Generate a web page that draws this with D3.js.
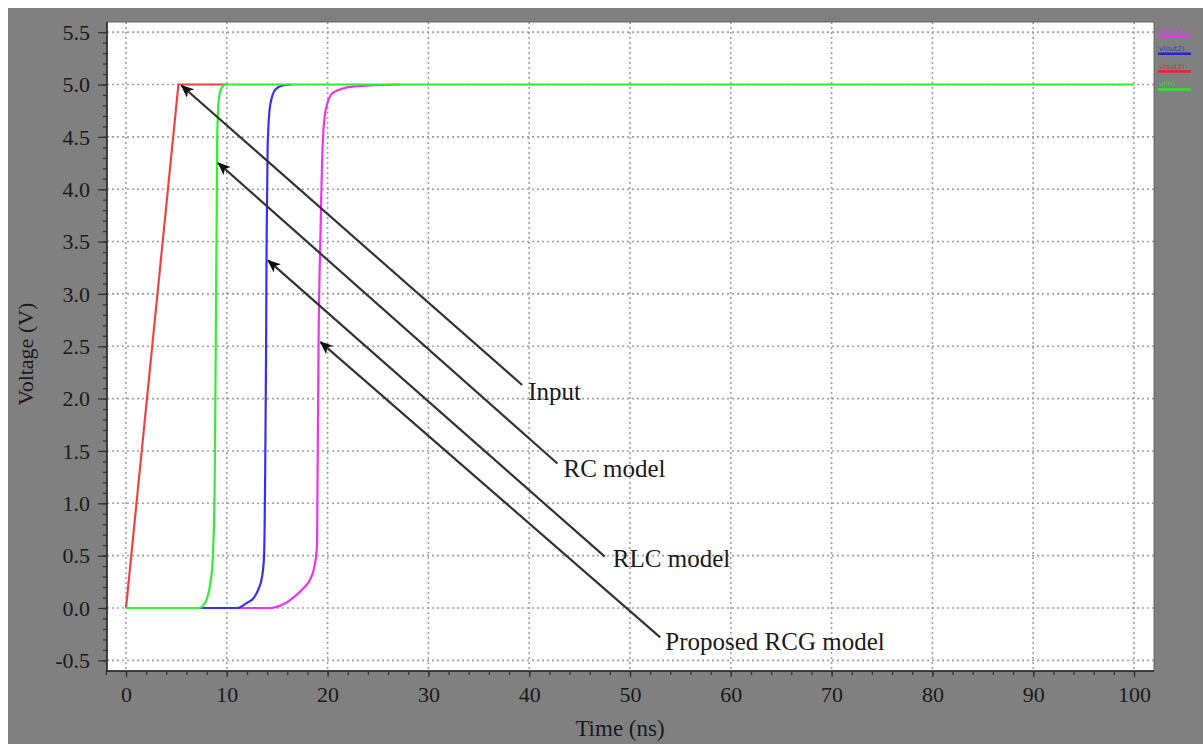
<!DOCTYPE html>
<html><head><meta charset="utf-8">
<script src="https://cdn.jsdelivr.net/npm/d3@7"></script>
<style>body{margin:0;background:#fff}svg{display:block}</style>
</head><body>
<svg id="c" width="1203" height="744"></svg>
<script>
// ---- data (time ns, voltage V) ----
const inputWave = [[0,0],[5.2,5],[10,5]];
const rcWave = [[0,0],[7.3,0],[7.7,0.03],[8.0,0.08],[8.3,0.2],[8.6,0.46],[8.8,1.2],[8.9,2.5],[9.0,3.8],[9.05,4.5],[9.2,4.85],[9.5,4.97],[9.9,5],[100,5]];
const rlcWave = [[0,0],[11,0],[12.0,0.05],[12.7,0.1],[13.1,0.17],[13.5,0.3],[13.7,0.5],[13.8,1.2],[13.9,2.5],[13.95,3.5],[14.05,4.4],[14.3,4.8],[14.8,4.95],[15.5,4.99],[16.4,5]];
const rcgWave = [[0,0],[14.3,0],[15.5,0.03],[16.6,0.1],[17.5,0.18],[18.25,0.27],[18.7,0.4],[18.95,0.6],[19.0,1.2],[19.1,2.5],[19.3,3.6],[19.5,4.4],[19.8,4.75],[20.5,4.92],[22.5,4.98],[27.2,5]];
const xTicks = [0,10,20,30,40,50,60,70,80,90,100];
const yTicks = [-0.5,0,0.5,1,1.5,2,2.5,3,3.5,4,4.5,5,5.5];
const legendNames = ["v(out3)","v(out2)","v(out1)","v(in)"];
const annotations = [
  {label:"Input", tip:[5.5,4.99], tail:[39.3,2.13], at:[39.9,1.99]},
  {label:"RC model", tip:[9.15,4.25], tail:[42.8,1.38], at:[43.4,1.25]},
  {label:"RLC model", tip:[14.1,3.32], tail:[47.5,0.49], at:[48.3,0.39]},
  {label:"Proposed RCG model", tip:[19.3,2.54], tail:[53.0,-0.28], at:[53.5,-0.40]}
];

const svg = d3.select("#c");
const serif = "'Liberation Serif','Times New Roman',serif";
svg.append("rect").attr("x",8).attr("y",8).attr("width",1195).attr("height",736).attr("fill","#808080");

const x = d3.scaleLinear().domain([0,100]).range([126,1134]);
const y = d3.scaleLinear().domain([0,5]).range([608,84.5]);
const L=107,R=1154,T=22,B=671;

svg.append("rect").attr("x",L).attr("y",T).attr("width",R-L).attr("height",B-T).attr("fill","#fff");
svg.append("defs").append("clipPath").attr("id","clip").append("rect").attr("x",L).attr("y",T).attr("width",R-L).attr("height",B-T);

// grid
const g = svg.append("g").attr("clip-path","url(#clip)");
g.selectAll(".gx").data(xTicks).join("line").attr("x1",d=>x(d)).attr("x2",d=>x(d)).attr("y1",T).attr("y2",B)
  .attr("stroke","#a0a0a0").attr("stroke-width",1.6).attr("stroke-dasharray","2,3");
g.selectAll(".gy").data(yTicks).join("line").attr("y1",d=>y(d)).attr("y2",d=>y(d)).attr("x1",L).attr("x2",R)
  .attr("stroke","#a0a0a0").attr("stroke-width",1.6).attr("stroke-dasharray","2,3");

// curves
const line = d3.line().x(d=>x(d[0])).y(d=>y(d[1])).curve(d3.curveMonotoneX);
const lineLin = d3.line().x(d=>x(d[0])).y(d=>y(d[1]));
[[rcgWave,"#ee33ee",line],[rlcWave,"#3333ee",line],[inputWave,"#ee4444",lineLin],[rcWave,"#33ee33",line]].forEach(([d,c,ln])=>{
  g.append("path").datum(d).attr("d",ln).attr("fill","none").attr("stroke",c).attr("stroke-width",2.2).attr("stroke-linejoin","round");
});

// border
svg.append("rect").attr("x",L).attr("y",T).attr("width",R-L).attr("height",B-T).attr("fill","none").attr("stroke","#666").attr("stroke-width",1);
svg.append("line").attr("x1",L).attr("x2",L).attr("y1",T).attr("y2",B+1).attr("stroke","#222").attr("stroke-width",1.5);
svg.append("line").attr("x1",L).attr("x2",R).attr("y1",B).attr("y2",B).attr("stroke","#222").attr("stroke-width",1.5);

// axes
const fmt = d => d3.format(".1f")(d).replace("\u2212","-");
const yAxis = d3.axisLeft(y).tickValues(d3.range(-5,56).map(i=>i/10)).tickSize(4).tickFormat("");
const ya = svg.append("g").attr("transform",`translate(${L},0)`).call(yAxis);
const yMaj = d3.axisLeft(y).tickValues(yTicks).tickSize(9).tickFormat(fmt).tickPadding(6);
const ym = svg.append("g").attr("transform",`translate(${L},0)`).call(yMaj);
const xAxis = d3.axisBottom(x).tickValues(d3.range(-1,51).map(i=>i*2)).tickSize(4).tickFormat("");
const xa = svg.append("g").attr("transform",`translate(0,${B})`).call(xAxis);
const xMaj = d3.axisBottom(x).tickValues(xTicks).tickSize(6).tickPadding(10);
const xm = svg.append("g").attr("transform",`translate(0,${B})`).call(xMaj);
[ya,ym,xa,xm].forEach(a=>{a.select(".domain").remove();a.selectAll("line").attr("stroke","#333").attr("stroke-width",1.3);
  a.selectAll("text").attr("fill","#1a1a1a").style("font-family",serif).style("font-size","22px");});
xm.selectAll("text").attr("y",31).attr("dy",0);
ym.selectAll("text").attr("x",-17).attr("dy","0.33em");

svg.append("text").attr("transform","translate(33,354) rotate(-90)").attr("text-anchor","middle")
  .style("font-family",serif).style("font-size","22px").attr("fill","#1a1a1a").text("Voltage (V)");
svg.append("text").attr("x",620).attr("y",736).attr("text-anchor","middle")
  .style("font-family",serif).style("font-size","23px").attr("fill","#1a1a1a").text("Time (ns)");

// annotations
svg.select("defs").append("marker").attr("id","ah").attr("viewBox","0 0 12 10").attr("refX",11).attr("refY",5)
  .attr("markerWidth",14).attr("markerHeight",11).attr("markerUnits","userSpaceOnUse").attr("orient","auto")
  .append("path").attr("d","M0,0 L12,5 L0,10 L3,5 Z").attr("fill","#111");
annotations.forEach(a=>{
  svg.append("line").attr("x1",x(a.tail[0])).attr("y1",y(a.tail[1])).attr("x2",x(a.tip[0])).attr("y2",y(a.tip[1]))
    .attr("stroke","#333").attr("stroke-width",2.2).attr("marker-end","url(#ah)");
  svg.append("text").attr("x",x(a.at[0])).attr("y",y(a.at[1])).style("font-family",serif).style("font-size","25px")
    .attr("fill","#1a1a1a").text(a.label);
});

// legend
const legColors = ["#ee33ee","#2222dd","#ee2222","#22ee22"];
legendNames.forEach((n,i)=>{
  const yy = 36 + i*17.8;
  svg.append("text").attr("x",1159).attr("y",yy-3).style("font-family","'DejaVu Sans',sans-serif").style("font-size","7px")
    .attr("fill",legColors[i]).attr("opacity",0.8).text(n);
  svg.append("line").attr("x1",1158).attr("x2",1191).attr("y1",yy).attr("y2",yy).attr("stroke",legColors[i]).attr("stroke-width",2.5);
});
</script>
</body></html>
